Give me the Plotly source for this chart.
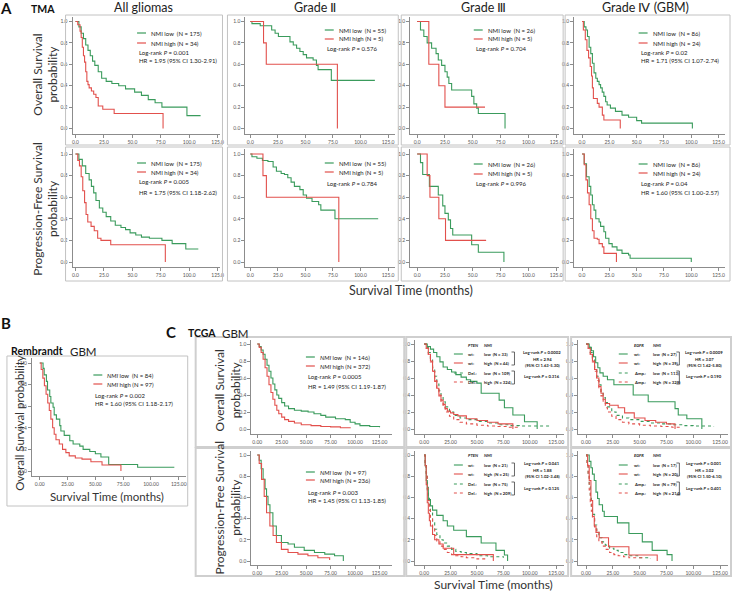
import plotly.graph_objects as go

W, H = 737, 593
GREEN = "#3a9b5c"
RED = "#e2504c"
FONT = "Lato"

# ============ Data ============
# --- A: TMA, all gliomas ---
a1_os_low_t = [0, 3, 5, 7, 9, 11, 13, 15, 17, 20, 23, 27, 32, 38, 44, 52, 58, 64, 70, 76, 98, 110]
a1_os_low_s = [1.0, 0.95, 0.89, 0.84, 0.78, 0.73, 0.68, 0.63, 0.59, 0.53, 0.47, 0.44, 0.42, 0.40, 0.37, 0.34, 0.31, 0.27, 0.24, 0.20, 0.12, 0.12]
a1_os_high_t = [0, 2, 4, 5, 6, 7, 8, 9, 10, 11, 12, 14, 16, 18, 20, 24, 34, 77]
a1_os_high_s = [1.0, 0.97, 0.91, 0.85, 0.76, 0.68, 0.62, 0.53, 0.44, 0.41, 0.38, 0.35, 0.32, 0.29, 0.21, 0.18, 0.14, 0.0]
a1_pfs_low_t = [0, 3, 6, 9, 12, 14, 16, 18, 21, 24, 27, 31, 35, 40, 44, 48, 53, 58, 65, 76, 85, 97, 108]
a1_pfs_low_s = [1.0, 0.95, 0.89, 0.82, 0.76, 0.70, 0.64, 0.57, 0.50, 0.46, 0.42, 0.38, 0.34, 0.32, 0.30, 0.27, 0.25, 0.23, 0.22, 0.20, 0.17, 0.12, 0.12]
a1_pfs_high_t = [0, 2, 3.5, 5, 6.4, 8, 9.3, 10.8, 13.7, 16.5, 19.5, 22.4, 31, 79]
a1_pfs_high_s = [1.0, 0.94, 0.89, 0.79, 0.66, 0.55, 0.44, 0.37, 0.33, 0.29, 0.22, 0.20, 0.16, 0.0]

# --- A: grade II ---
a2_os_low_t = [0, 1.5, 9, 19.4, 22.5, 25.5, 36, 39, 42, 45, 48, 51, 57, 60, 61.5, 73.5, 113]
a2_os_low_s = [1.0, 0.98, 0.96, 0.92, 0.89, 0.86, 0.81, 0.78, 0.75, 0.72, 0.69, 0.66, 0.64, 0.59, 0.55, 0.45, 0.45]
a2_os_high_t = [0, 12, 14.5, 79]
a2_os_high_s = [1.0, 0.8, 0.6, 0.0]
a2_pfs_low_t = [0, 1.5, 6, 11, 16, 20.7, 23.7, 28, 31, 34, 37, 40, 45, 48, 51, 56, 62, 64, 76.8, 116]
a2_pfs_low_s = [1.0, 0.975, 0.96, 0.94, 0.93, 0.88, 0.84, 0.82, 0.81, 0.78, 0.74, 0.70, 0.67, 0.62, 0.59, 0.56, 0.53, 0.48, 0.40, 0.40]
a2_pfs_high_t = [0, 11.5, 14.6, 80.3]
a2_pfs_high_s = [1.0, 0.8, 0.6, 0.0]

# --- A: grade III ---
a3_os_low_t = [0, 3, 6, 9, 13, 17, 19, 22, 25, 27, 28.5, 31, 49, 51, 53.5, 55, 79]
a3_os_low_s = [1.0, 0.92, 0.86, 0.80, 0.75, 0.70, 0.64, 0.59, 0.53, 0.48, 0.42, 0.36, 0.30, 0.23, 0.19, 0.14, 0.0]
a3_os_high_t = [0, 10.5, 19.5, 25, 61]
a3_os_high_s = [1.0, 0.6, 0.4, 0.2, 0.2]
a3_pfs_low_t = [0, 3, 5, 11, 19, 23, 25, 28, 30, 32, 49, 55, 78]
a3_pfs_low_s = [1.0, 0.92, 0.81, 0.70, 0.62, 0.52, 0.45, 0.39, 0.31, 0.25, 0.16, 0.09, 0.0]
a3_pfs_high_t = [0, 9, 11.5, 19.5, 25.5, 62]
a3_pfs_high_s = [1.0, 0.8, 0.6, 0.4, 0.2, 0.2]

# --- A: grade IV (GBM) ---
a4_os_low_t = [0, 2, 3.6, 5, 6.5, 8, 9.5, 11, 12.6, 14, 15.6, 17, 18.5, 20, 21.6, 23, 26, 30.6, 36.6, 42.6, 50, 54.5, 101]
a4_os_low_s = [1.0, 0.95, 0.92, 0.86, 0.76, 0.70, 0.61, 0.52, 0.47, 0.44, 0.41, 0.38, 0.34, 0.30, 0.25, 0.22, 0.19, 0.16, 0.125, 0.105, 0.074, 0.05, 0.0]
a4_os_high_t = [0, 1.2, 3, 4.5, 6, 7.5, 8.7, 9.5, 10.4, 14, 15.6, 18.6, 20, 35]
a4_os_high_s = [1.0, 0.92, 0.83, 0.73, 0.66, 0.58, 0.49, 0.38, 0.28, 0.235, 0.20, 0.125, 0.08, 0.0]
a4_pfs_low_t = [0, 2, 4.1, 6.5, 8, 9.5, 11, 12.6, 15.6, 17, 20, 21.6, 24.6, 27.6, 32, 36.6, 42.6, 44, 100]
a4_pfs_low_s = [1.0, 0.91, 0.79, 0.70, 0.62, 0.53, 0.48, 0.40, 0.37, 0.33, 0.28, 0.22, 0.17, 0.14, 0.11, 0.08, 0.065, 0.035, 0.0]
a4_pfs_high_t = [0, 2, 3.6, 5, 6.5, 8, 9.5, 11, 14, 15.6, 18.6, 20, 31.5]
a4_pfs_high_s = [1.0, 0.9, 0.76, 0.64, 0.53, 0.40, 0.29, 0.22, 0.21, 0.17, 0.14, 0.08, 0.0]

# --- B: Rembrandt GBM ---
b_low_t = [0, 3, 4, 6, 7, 9, 10, 12, 13, 15, 18, 19, 22, 27, 30, 36, 39, 45, 50, 55, 62, 88, 121]
b_low_s = [1.0, 0.95, 0.89, 0.83, 0.75, 0.69, 0.63, 0.59, 0.52, 0.48, 0.42, 0.37, 0.33, 0.28, 0.25, 0.23, 0.20, 0.18, 0.16, 0.13, 0.06, 0.035, 0.035]
b_high_t = [0, 1.3, 2.8, 4.2, 5.7, 7.2, 8.6, 10, 11.6, 13, 14.6, 17.6, 20.5, 23.5, 26.5, 32, 38, 46, 56, 73]
b_high_s = [1.0, 0.94, 0.86, 0.79, 0.71, 0.63, 0.56, 0.48, 0.40, 0.34, 0.29, 0.25, 0.20, 0.17, 0.14, 0.12, 0.11, 0.086, 0.056, 0.0]

# --- C: TCGA GBM, NMI only ---
c1_os_low_t = [0, 2, 4, 6, 8, 10, 12, 14, 16, 18, 20, 22, 25, 28, 32, 38, 45, 52, 58, 65, 70, 80, 90, 95, 100, 105, 115, 125]
c1_os_low_s = [1.0, 0.97, 0.93, 0.88, 0.82, 0.75, 0.68, 0.60, 0.53, 0.46, 0.40, 0.36, 0.31, 0.27, 0.24, 0.22, 0.21, 0.20, 0.18, 0.16, 0.14, 0.12, 0.11, 0.08, 0.06, 0.04, 0.03, 0.02]
c1_os_high_t = [0, 2, 4, 6, 8, 10, 12, 14, 16, 18, 20, 22, 25, 28, 32, 38, 45, 55, 65, 75, 85, 95]
c1_os_high_s = [1.0, 0.96, 0.90, 0.82, 0.72, 0.62, 0.52, 0.43, 0.35, 0.28, 0.22, 0.18, 0.14, 0.11, 0.09, 0.07, 0.05, 0.04, 0.03, 0.025, 0.015, 0.01]
c1_pfs_low_t = [0, 2, 4, 6, 8, 9.5, 11, 13, 16, 19.5, 24.7, 31.5, 38, 48, 58.5, 69, 79, 88]
c1_pfs_low_s = [1.0, 0.95, 0.87, 0.77, 0.68, 0.61, 0.53, 0.455, 0.33, 0.24, 0.175, 0.16, 0.13, 0.10, 0.08, 0.065, 0.05, 0.0]
c1_pfs_high_t = [0, 2, 4.4, 7.1, 9.5, 12.9, 16.2, 19.6, 24.7, 31.5, 41.6, 51.8, 62, 74]
c1_pfs_high_s = [1.0, 0.92, 0.77, 0.61, 0.455, 0.33, 0.24, 0.175, 0.11, 0.08, 0.065, 0.05, 0.03, 0.01]

# --- C: PTEN x NMI ---
c2_os_wtlow_t = [0, 3, 6, 9, 12, 15, 18, 22, 26, 30, 35, 40, 44, 50, 54, 71, 76, 84, 95, 107]
c2_os_wtlow_s = [1.0, 0.97, 0.94, 0.90, 0.85, 0.79, 0.73, 0.70, 0.67, 0.64, 0.61, 0.58, 0.56, 0.54, 0.42, 0.34, 0.25, 0.165, 0.086, 0.0]
c2_os_wthigh_t = [0, 2, 4, 6, 8, 10, 12, 14, 16, 18, 20, 22, 25, 28, 32, 40, 50, 60, 70, 84]
c2_os_wthigh_s = [1.0, 0.95, 0.88, 0.80, 0.68, 0.56, 0.48, 0.40, 0.34, 0.29, 0.24, 0.21, 0.19, 0.17, 0.155, 0.12, 0.10, 0.08, 0.06, 0.0]
c2_os_dellow_t = [0, 2, 4, 6, 8, 10, 12, 14, 16, 18, 20, 24, 28, 34, 40, 50, 60, 70, 80, 90, 100, 120]
c2_os_dellow_s = [1.0, 0.96, 0.90, 0.82, 0.72, 0.62, 0.53, 0.45, 0.38, 0.32, 0.26, 0.20, 0.16, 0.13, 0.11, 0.09, 0.07, 0.05, 0.04, 0.035, 0.035, 0.035]
c2_os_delhigh_t = [0, 2, 4, 6, 8, 10, 12, 14, 16, 18, 20, 24, 28, 34, 40, 50, 60, 70, 80, 90]
c2_os_delhigh_s = [1.0, 0.95, 0.88, 0.79, 0.68, 0.57, 0.47, 0.39, 0.31, 0.25, 0.20, 0.15, 0.11, 0.08, 0.06, 0.045, 0.035, 0.03, 0.02, 0.01]
c2_pfs_wtlow_t = [0, 1, 2, 3, 4, 6, 8, 12, 18, 22, 28, 40, 54, 68, 76, 79]
c2_pfs_wtlow_s = [1.0, 0.90, 0.76, 0.67, 0.58, 0.52, 0.48, 0.43, 0.38, 0.33, 0.29, 0.23, 0.17, 0.10, 0.057, 0.0]
c2_pfs_wthigh_t = [0, 1, 2, 3, 4, 5, 6, 8, 10, 14, 18, 28, 65.5]
c2_pfs_wthigh_s = [1.0, 0.90, 0.72, 0.55, 0.45, 0.38, 0.33, 0.25, 0.20, 0.16, 0.12, 0.06, 0.0]
c2_pfs_dellow_t = [0, 1, 2, 3, 4, 5, 6, 8, 10, 12, 15, 18, 22, 26, 30, 35, 40, 50, 60, 75]
c2_pfs_dellow_s = [1.0, 0.93, 0.83, 0.72, 0.62, 0.53, 0.46, 0.36, 0.30, 0.25, 0.20, 0.17, 0.14, 0.11, 0.09, 0.08, 0.07, 0.05, 0.04, 0.03]
c2_pfs_delhigh_t = [0, 1, 2, 3, 4, 5, 6, 8, 10, 12, 15, 18, 22, 26, 30, 35, 40, 50, 58]
c2_pfs_delhigh_s = [1.0, 0.92, 0.80, 0.68, 0.57, 0.48, 0.41, 0.31, 0.24, 0.19, 0.14, 0.11, 0.08, 0.06, 0.05, 0.04, 0.03, 0.02, 0.01]

# --- C: EGFR x NMI ---
c3_os_wtlow_t = [0, 3, 5, 7, 9, 11, 13, 16, 20, 26, 44, 58, 83, 86, 94, 108]
c3_os_wtlow_s = [1.0, 0.96, 0.92, 0.85, 0.78, 0.72, 0.66, 0.62, 0.58, 0.52, 0.40, 0.32, 0.24, 0.165, 0.12, 0.0]
c3_os_wthigh_t = [0, 2, 4, 6, 8, 10, 12, 14, 16, 18, 22, 30, 36, 45, 55, 65, 75, 83]
c3_os_wthigh_s = [1.0, 0.95, 0.88, 0.80, 0.70, 0.60, 0.50, 0.42, 0.35, 0.30, 0.28, 0.25, 0.19, 0.13, 0.10, 0.08, 0.06, 0.0]
c3_os_amplow_t = [0, 2, 4, 6, 8, 10, 12, 14, 16, 18, 20, 24, 28, 34, 40, 50, 60, 70, 80, 90, 100, 119]
c3_os_amplow_s = [1.0, 0.96, 0.90, 0.82, 0.72, 0.62, 0.52, 0.44, 0.37, 0.31, 0.26, 0.20, 0.16, 0.13, 0.11, 0.09, 0.07, 0.06, 0.05, 0.04, 0.035, 0.03]
c3_os_amphigh_t = [0, 2, 4, 6, 8, 10, 12, 14, 16, 18, 20, 24, 28, 34, 40, 50, 60, 70, 80, 88]
c3_os_amphigh_s = [1.0, 0.95, 0.88, 0.79, 0.68, 0.57, 0.47, 0.39, 0.31, 0.25, 0.20, 0.15, 0.11, 0.08, 0.06, 0.045, 0.035, 0.03, 0.02, 0.01]
c3_pfs_wtlow_t = [0, 3, 4.6, 6, 7.7, 9.3, 10.8, 12.3, 15.4, 17, 29.3, 40, 52.5, 61.7, 75.6, 80.2]
c3_pfs_wtlow_s = [1.0, 0.94, 0.88, 0.82, 0.76, 0.65, 0.59, 0.53, 0.47, 0.42, 0.36, 0.26, 0.18, 0.10, 0.06, 0.0]
c3_pfs_wthigh_t = [0, 1.5, 3, 4.6, 6.2, 7.7, 9.3, 12.3, 21, 40, 66.4]
c3_pfs_wthigh_s = [1.0, 0.90, 0.76, 0.57, 0.42, 0.33, 0.27, 0.22, 0.135, 0.057, 0.0]
c3_pfs_amplow_t = [0, 1, 2, 3, 4, 5, 6, 8, 10, 12, 15, 18, 22, 26, 30, 35, 40, 50, 60]
c3_pfs_amplow_s = [1.0, 0.93, 0.82, 0.70, 0.60, 0.51, 0.44, 0.34, 0.27, 0.22, 0.18, 0.15, 0.12, 0.10, 0.08, 0.06, 0.05, 0.03, 0.02]
c3_pfs_amphigh_t = [0, 1, 2, 3, 4, 5, 6, 8, 10, 12, 15, 18, 22, 26, 30, 35, 40, 52]
c3_pfs_amphigh_s = [1.0, 0.92, 0.80, 0.67, 0.56, 0.47, 0.40, 0.30, 0.23, 0.18, 0.14, 0.11, 0.08, 0.06, 0.05, 0.04, 0.03, 0.02]

x_ticks = [0, 25, 50, 75, 100, 125]
x_labels_a = ["0.0", "25.0", "50.0", "75.0", "100.0", "125.0"]
x_labels_bc = ["0.00", "25.00", "50.00", "75.00", "100.00", "125.00"]
y_ticks = [0, 0.2, 0.4, 0.6, 0.8, 1.0]
y_labels = ["0.0", "0.2", "0.4", "0.6", "0.8", "1.0"]

# ============ Helpers (pixel coordinates -> paper) ============
fig = go.Figure()
shapes, notes, axes = [], [], {}


def fx(p):
    return p / W


def fy(p):
    return 1 - p / H


def text(x, y, s, size=6, anchor="left", bold=False, angle=0, color="#222"):
    if bold:
        s = f"<b>{s}</b>"
    notes.append(dict(x=fx(x), y=fy(y), xref="paper", yref="paper", text=s,
                      showarrow=False, xanchor=anchor, yanchor="middle",
                      textangle=angle, font=dict(family=FONT, size=size, color=color)))


def hline(x0, x1, y, color, dash="solid", width=1.2):
    shapes.append(dict(type="line", xref="paper", yref="paper", x0=fx(x0), x1=fx(x1),
                       y0=fy(y), y1=fy(y), line=dict(color=color, width=width, dash=dash)))


def frame(x0, x1, y0, y1, color="#c2c2c2", width=1):
    shapes.append(dict(type="rect", xref="paper", yref="paper", x0=fx(x0), x1=fx(x1),
                       y0=fy(y1), y1=fy(y0), line=dict(color=color, width=width)))


def bracket(x, ya, yb):
    path = f"M {fx(x - 3)} {fy(ya)} L {fx(x)} {fy(ya)} L {fx(x)} {fy(yb)} L {fx(x - 3)} {fy(yb)}"
    shapes.append(dict(type="path", xref="paper", yref="paper", path=path,
                       line=dict(color="#444", width=0.8)))


def panel(xz, xppu, axl, axr, y0, yppu, ayt, ayb, xlabels, curves):
    n = len(axes) // 2 + 1
    sfx = "" if n == 1 else str(n)
    common = dict(showline=True, linecolor="#8c8c8c", linewidth=1, ticks="outside",
                  ticklen=3, tickcolor="#8c8c8c", showgrid=False, zeroline=False,
                  tickfont=dict(family=FONT, size=5, color="#555"), fixedrange=True)
    axes[f"xaxis{sfx}"] = dict(domain=[fx(axl), fx(axr)],
                               range=[(axl - xz) / xppu, (axr - xz) / xppu],
                               anchor=f"y{sfx}", tickvals=x_ticks, ticktext=xlabels, **common)
    axes[f"yaxis{sfx}"] = dict(domain=[fy(ayb), fy(ayt)],
                               range=[(y0 - ayb) / yppu, (y0 - ayt) / yppu],
                               anchor=f"x{sfx}", tickvals=y_ticks, ticktext=y_labels, **common)
    for t, s, color, dash in curves:
        fig.add_trace(go.Scatter(x=t, y=s, xaxis=f"x{sfx}", yaxis=f"y{sfx}", mode="lines",
                                 line=dict(color=color, width=1.1, shape="hv", dash=dash),
                                 hoverinfo="skip"))


def nmi_legend(xs, ys, n_low, n_high, stats, italic=False, size=6):
    nmi = "<i>NMI</i>" if italic else "NMI"
    hline(xs, xs + 9, ys[0], GREEN)
    hline(xs, xs + 9, ys[1], RED)
    text(xs + 12, ys[0], f"{nmi} low  (N = {n_low})", size)
    text(xs + 12, ys[1], f"{nmi} high (N = {n_high})", size)
    for yy, s in zip(ys[2:], stats):
        text(xs, yy, s, size)


def mut_legend(xs, xlab, xgrp, bx, rc, yh, ys, gene, labs, ns, ry, rtext):
    fs = 4.2
    text(xlab, yh, f"<i>{gene}</i>", fs, bold=True)
    text(xgrp, yh, "<i>NMI</i>", fs, bold=True)
    styles = [(GREEN, "solid"), (RED, "solid"), (GREEN, "dot"), (RED, "dot")]
    grps = ["low", "high", "low", "high"]
    for yy, (c, d), lab, g, nn in zip(ys, styles, labs, grps, ns):
        hline(xs, xs + 9, yy, c, d, 1.1)
        text(xlab, yy, lab, fs, bold=True)
        text(xgrp, yy, f"{g}  (N = {nn})", fs, bold=True)
    bracket(bx, ys[0] - 2, ys[1] + 2)
    bracket(bx, ys[2] - 2, ys[3] + 2)
    for yy, s in zip(ry, rtext):
        text(rc, yy, s, fs, anchor="center", bold=True)


def km(t, s, color, dash="solid"):
    return (t, s, color, dash)


# ============ Panel A: TMA ============
a_rows = [(128.5, 107, 17, 134, 15, 145), (262, 108, 149, 267, 147, 281)]
a_cols = [(76, 1.145, 73, 221, 66, 224), (252, 1.11, 247, 398, 229, 401),
          (420, 1.12, 413, 563, 404, 567), (586, 1.10, 578, 730, 569, 735)]
a_curves = [
    [(a1_os_low_t, a1_os_low_s, a1_os_high_t, a1_os_high_s),
     (a2_os_low_t, a2_os_low_s, a2_os_high_t, a2_os_high_s),
     (a3_os_low_t, a3_os_low_s, a3_os_high_t, a3_os_high_s),
     (a4_os_low_t, a4_os_low_s, a4_os_high_t, a4_os_high_s)],
    [(a1_pfs_low_t, a1_pfs_low_s, a1_pfs_high_t, a1_pfs_high_s),
     (a2_pfs_low_t, a2_pfs_low_s, a2_pfs_high_t, a2_pfs_high_s),
     (a3_pfs_low_t, a3_pfs_low_s, a3_pfs_high_t, a3_pfs_high_s),
     (a4_pfs_low_t, a4_pfs_low_s, a4_pfs_high_t, a4_pfs_high_s)],
]
for r, (y0, yppu, ayt, ayb, fy0, fy1) in enumerate(a_rows):
    for c, (xz, xppu, axl, axr, fx0, fx1) in enumerate(a_cols):
        lt, ls, ht, hs = a_curves[r][c]
        frame(fx0, fx1, fy0, fy1)
        panel(xz, xppu, axl, axr, y0, yppu, ayt, ayb, x_labels_a,
              [km(lt, ls, GREEN), km(ht, hs, RED)])

text(6, 8, "A", 15, anchor="center", bold=True, color="#111")
text(43, 9, "TMA", 10.5, anchor="center", bold=True, color="#111")
for xc, title in [(144, "All gliomas"), (318, "Grade Ⅱ"), (487, "Grade Ⅲ"), (650, "Grade Ⅳ (GBM)")]:
    text(xc, 8, title, 12.5, anchor="center", color="#222")
text(45, 75, "Overall Survival<br>probability", 12, anchor="center", angle=-90, color="#333")
text(45, 209, "Progression-Free Survival<br>probability", 12, anchor="center", angle=-90, color="#333")
text(414, 290, "Survival Time (months)", 12.5, anchor="center", color="#333")

nmi_legend(138, [33, 43, 53, 61], 175, 34, ["Log-rank <i>P</i> = 0.001", "HR = 1.95 (95% CI 1.30-2.91)"])
nmi_legend(327, [30, 39, 49], 55, 5, ["Log-rank <i>P</i> = 0.576"])
nmi_legend(477, [30, 39, 48], 26, 5, ["Log-rank <i>P</i> = 0.704"])
nmi_legend(643, [33, 43, 52, 61], 86, 24, ["Log-rank <i>P</i> = 0.02", "HR = 1.71 (95% CI 1.07-2.74)"])
nmi_legend(138, [163, 172, 182, 192], 175, 34, ["Log-rank <i>P</i> = 0.005", "HR = 1.75 (95% CI 1.18-2.62)"])
nmi_legend(327, [163, 172, 183], 55, 5, ["Log-rank <i>P</i> = 0.784"])
nmi_legend(477, [164, 174, 183], 26, 5, ["Log-rank <i>P</i> = 0.996"])
nmi_legend(643, [164, 173, 183, 192], 86, 24, ["Log-rank <i>P</i> = 0.04", "HR = 1.60 (95% CI 1.00-2.57)"])

# ============ Panel B: Rembrandt ============
frame(7, 189, 356, 506)
panel(40, 1.12, 32, 187, 471, 108, 358, 476, x_labels_bc,
      [km(b_low_t, b_low_s, GREEN), km(b_high_t, b_high_s, RED)])
text(6, 323, "B", 15, anchor="center", bold=True, color="#111")
text(37, 351, "Rembrandt", 10.5, anchor="center", bold=True, color="#111")
text(84, 351, "GBM", 11.5, anchor="center", color="#222")
text(19, 423, "Overall Survival probability", 11.5, anchor="center", angle=-90, color="#333")
text(108, 496, "Survival Time (months)", 11.5, anchor="center", color="#333")
nmi_legend(94, [375, 384, 395, 403], 84, 97, ["Log-rank <i>P</i> = 0.002", "HR = 1.60 (95% CI 1.18-2.17)"], italic=True)

# ============ Panel C: TCGA ============
c_rows = [(429, 85, 340, 434, 337, 447), (561, 106, 451, 565, 448, 576)]
c_cols = [(259, 0.985, 253, 395, 197, 407), (427, 1.064, 418, 568, 409, 572),
          (590, 1.08, 582, 733, 575, 736)]
c_curves = [
    [[km(c1_os_low_t, c1_os_low_s, GREEN), km(c1_os_high_t, c1_os_high_s, RED)],
     [km(c2_os_dellow_t, c2_os_dellow_s, GREEN, "dot"), km(c2_os_delhigh_t, c2_os_delhigh_s, RED, "dot"),
      km(c2_os_wtlow_t, c2_os_wtlow_s, GREEN), km(c2_os_wthigh_t, c2_os_wthigh_s, RED)],
     [km(c3_os_amplow_t, c3_os_amplow_s, GREEN, "dot"), km(c3_os_amphigh_t, c3_os_amphigh_s, RED, "dot"),
      km(c3_os_wtlow_t, c3_os_wtlow_s, GREEN), km(c3_os_wthigh_t, c3_os_wthigh_s, RED)]],
    [[km(c1_pfs_low_t, c1_pfs_low_s, GREEN), km(c1_pfs_high_t, c1_pfs_high_s, RED)],
     [km(c2_pfs_dellow_t, c2_pfs_dellow_s, GREEN, "dot"), km(c2_pfs_delhigh_t, c2_pfs_delhigh_s, RED, "dot"),
      km(c2_pfs_wtlow_t, c2_pfs_wtlow_s, GREEN), km(c2_pfs_wthigh_t, c2_pfs_wthigh_s, RED)],
     [km(c3_pfs_amplow_t, c3_pfs_amplow_s, GREEN, "dot"), km(c3_pfs_amphigh_t, c3_pfs_amphigh_s, RED, "dot"),
      km(c3_pfs_wtlow_t, c3_pfs_wtlow_s, GREEN), km(c3_pfs_wthigh_t, c3_pfs_wthigh_s, RED)]],
]
for r, (y0, yppu, ayt, ayb, fy0, fy1) in enumerate(c_rows):
    for c, (xz, xppu, axl, axr, fx0, fx1) in enumerate(c_cols):
        frame(fx0, fx1, fy0, fy1, color="#cfcfcf", width=2)
        panel(xz, xppu, axl, axr, y0, yppu, ayt, ayb, x_labels_bc, c_curves[r][c])

text(172, 332, "C", 15, anchor="center", bold=True, color="#111")
text(203, 333, "TCGA", 10.5, anchor="center", bold=True, color="#111")
text(237, 333, "GBM", 11.5, anchor="center", color="#222")
text(229, 390, "Overall Survival<br>probability", 12, anchor="center", angle=-90, color="#333")
text(229, 508, "Progression-Free Survival<br>probability", 12, anchor="center", angle=-90, color="#333")
text(497, 584, "Survival Time (months)", 12, anchor="center", color="#333")

nmi_legend(308, [357, 366, 377, 386], 146, 372, ["Log-rank <i>P</i> = 0.0005", "HR = 1.49 (95% CI 1.19-1.87)"], italic=True)
nmi_legend(308, [472, 480, 492, 501], 97, 236, ["Log-rank <i>P</i> = 0.003", "HR = 1.45 (95% CI 1.13-1.85)"], italic=True)

mut_legend(457, 469, 485, 518, 546, 345, [354, 363, 373, 382], "PTEN",
           ["wt:", "wt:", "Del.:", "Del.:"], [33, 44, 109, 324], [352, 359, 365, 377],
           ["Log-rank <i>P</i> = 0.0002", "HR = 2.94", "(95% CI 1.63-5.30)", "Log-rank <i>P</i> = 0.316"])
mut_legend(457, 469, 485, 518, 546, 456, [465, 474, 484, 493], "PTEN",
           ["wt:", "wt:", "Del.:", "Del.:"], [21, 25, 75, 209], [463, 470, 476, 488],
           ["Log-rank <i>P</i> = 0.041", "HR = 1.88", "(95% CI 1.02-3.48)", "Log-rank <i>P</i> = 0.125"])
mut_legend(623, 636, 655, 684, 709, 345, [354, 363, 373, 382], "EGFR",
           ["wt:", "wt:", "Amp.:", "Amp.:"], [27, 39, 113, 329], [352, 359, 365, 377],
           ["Log-rank <i>P</i> = 0.0009", "HR = 3.07", "(95% CI 1.62-5.80)", "Log-rank <i>P</i> = 0.190"])
mut_legend(623, 636, 655, 684, 709, 456, [465, 474, 484, 493], "EGFR",
           ["wt:", "wt:", "Amp.:", "Amp.:"], [17, 20, 79, 214], [463, 470, 476, 488],
           ["Log-rank <i>P</i> = 0.001", "HR = 3.02", "(95% CI 1.50-6.10)", "Log-rank <i>P</i> = 0.401"])

fig.update_layout(width=W, height=H, margin=dict(l=0, r=0, t=0, b=0),
                  paper_bgcolor="white", plot_bgcolor="white", showlegend=False,
                  font=dict(family=FONT), shapes=shapes, annotations=notes, **axes)
# drop the page's default body margin so the figure sits at the window's corner
fig.write_html("out.html", config={"displayModeBar": False},
               post_script="document.body.style.margin='0';")
